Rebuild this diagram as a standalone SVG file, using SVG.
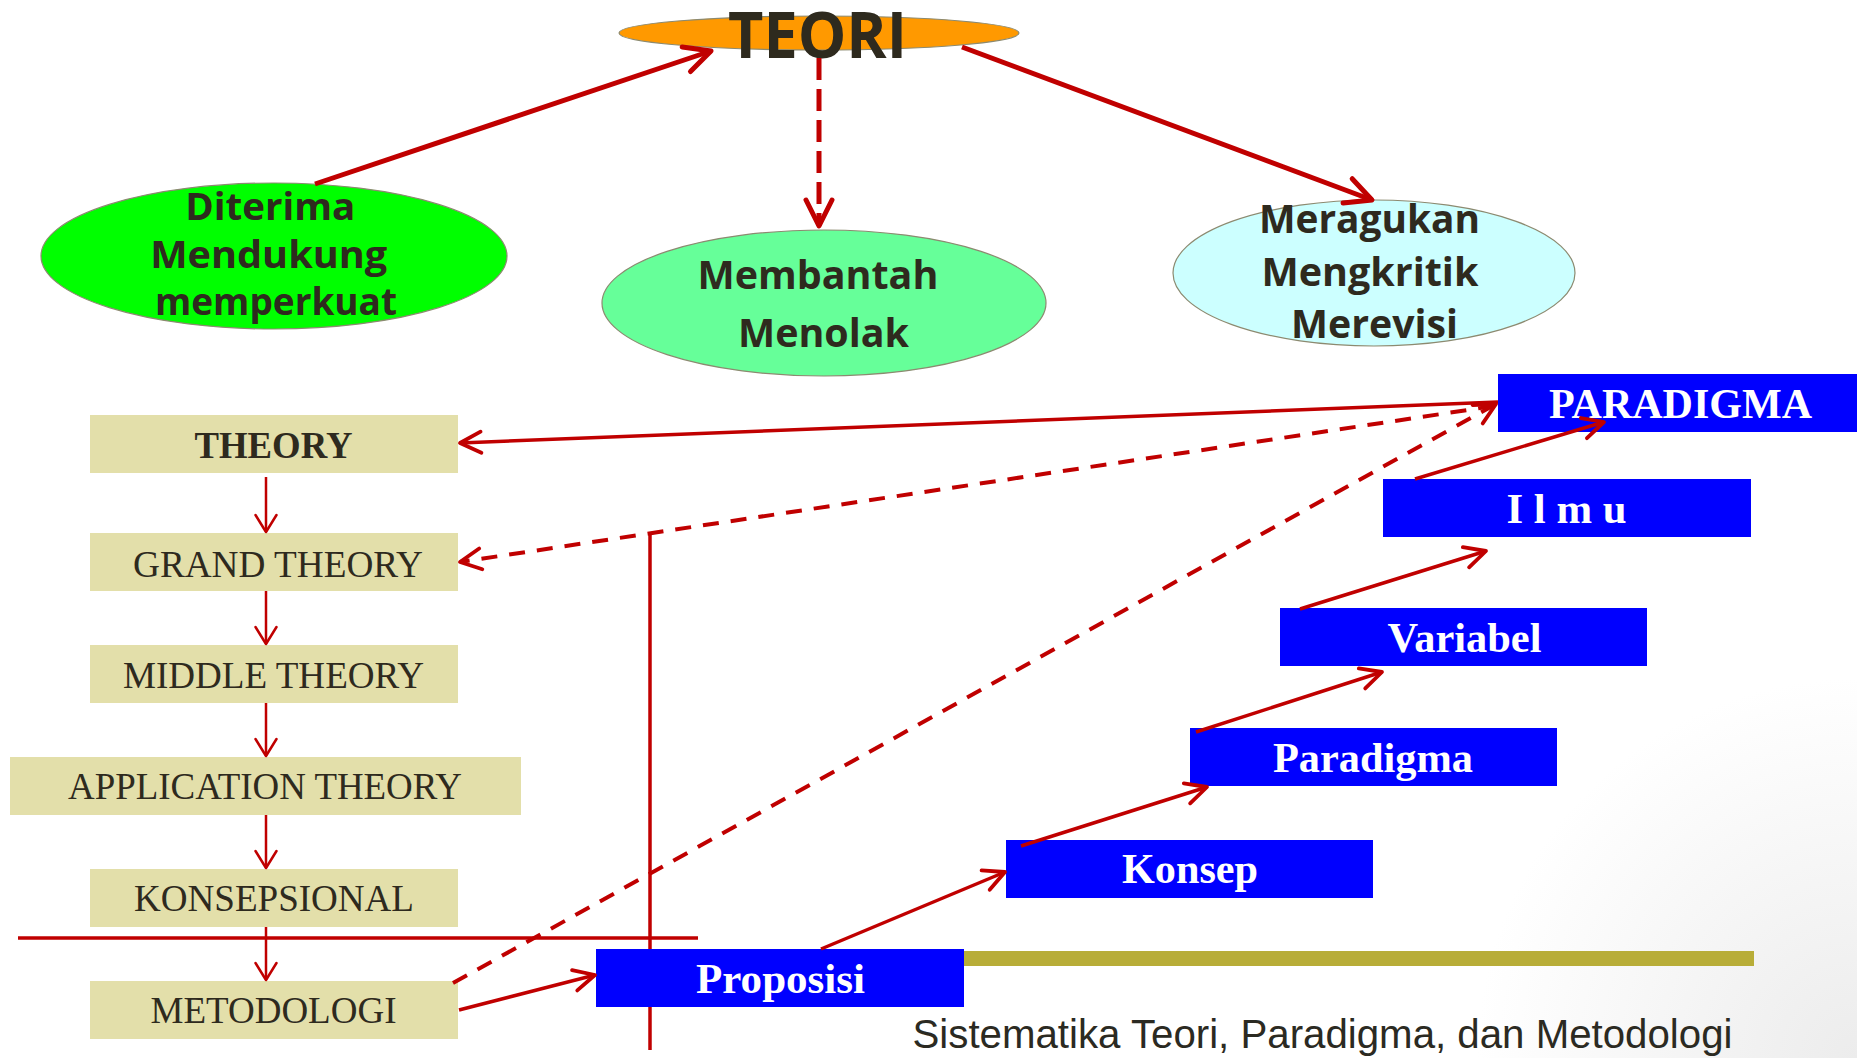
<svg xmlns="http://www.w3.org/2000/svg" width="1857" height="1058" viewBox="0 0 1857 1058">
<defs>
<style>
.ell{stroke:#8c8a70;stroke-width:1.2}
.et{font-family:"Open Sans","Liberation Sans",sans-serif;font-weight:bold;fill:#2e2a1e;text-anchor:middle}
.bx{fill:#E3DFAA}
.bt{font-family:"Liberation Serif","Times New Roman",serif;font-size:37px;fill:#2e2a1e;text-anchor:middle}
.blue{fill:#0000FF}
.wt{font-family:"Liberation Serif","Times New Roman",serif;font-size:42px;font-weight:bold;fill:#ffffff;text-anchor:middle}
.big{fill:none;stroke:#C00000;stroke-width:5}
.mid{fill:none;stroke:#C00000;stroke-width:3.5}
.thin{fill:none;stroke:#C00000;stroke-width:2.5}
.dash5{stroke-dasharray:22 9}
.dash4{stroke-dasharray:16 12;stroke-width:4}
</style>
<radialGradient id="bgGrad" gradientUnits="userSpaceOnUse" cx="1857" cy="1058" r="380">
<stop offset="0" stop-color="#ececec"/>
<stop offset="1" stop-color="#ffffff"/>
</radialGradient>
<marker id="ahBig" markerUnits="userSpaceOnUse" viewBox="-34 -18 38 36" markerWidth="38" markerHeight="36" refX="0" refY="0" orient="auto" overflow="visible">
<path d="M-26,-13 L0,0 L-26,13" fill="none" stroke="#C00000" stroke-width="5" stroke-linecap="round" stroke-linejoin="round"/>
</marker>
<marker id="ahMid" markerUnits="userSpaceOnUse" viewBox="-28 -14 32 28" markerWidth="32" markerHeight="28" refX="0" refY="0" orient="auto" overflow="visible">
<path d="M-21,-10.5 L0,0 L-21,10.5" fill="none" stroke="#C00000" stroke-width="3.8" stroke-linecap="round" stroke-linejoin="round"/>
</marker>
<marker id="ahThin" markerUnits="userSpaceOnUse" viewBox="-24 -14 28 28" markerWidth="28" markerHeight="28" refX="0" refY="0" orient="auto" overflow="visible">
<path d="M-17,-10.5 L0,0 L-17,10.5" fill="none" stroke="#C00000" stroke-width="2.5" stroke-linecap="round" stroke-linejoin="round"/>
</marker>
</defs>

<rect x="0" y="0" width="1857" height="1058" fill="#ffffff"/>
<rect x="1300" y="600" width="557" height="458" fill="url(#bgGrad)"/>

<!-- decorative bar -->
<rect id="olive-bar" x="964" y="951" width="790" height="15" fill="#B8AD38"/>

<!-- separator lines -->
<g id="separators">
<line x1="18" y1="938" x2="698" y2="938" class="mid"/>
<line x1="650" y1="532" x2="650" y2="1050" class="mid"/>
</g>

<!-- top ellipse nodes -->
<g id="node-teori">
<ellipse cx="819" cy="33" rx="200" ry="17" fill="#FF9900" class="ell"/>
<text x="817.5" y="58" class="et" font-size="64" textLength="179" lengthAdjust="spacingAndGlyphs">TEORI</text>
</g>
<g id="node-diterima">
<ellipse cx="274" cy="256" rx="233" ry="73" fill="#00FF00" class="ell"/>
<text class="et" font-size="37">
<tspan x="275" y="220" textLength="170" lengthAdjust="spacingAndGlyphs">Diterima</tspan>
<tspan x="273.5" y="268" textLength="237" lengthAdjust="spacingAndGlyphs">Mendukung</tspan>
<tspan x="276" y="315" textLength="242" lengthAdjust="spacingAndGlyphs">memperkuat</tspan>
</text>
</g>
<g id="node-membantah">
<ellipse cx="824" cy="303" rx="222" ry="73" fill="#66FF99" class="ell"/>
<text class="et" font-size="39">
<tspan x="823" y="289" textLength="241" lengthAdjust="spacingAndGlyphs">Membantah</tspan>
<tspan x="823.5" y="347" textLength="171" lengthAdjust="spacingAndGlyphs">Menolak</tspan>
</text>
</g>
<g id="node-meragukan">
<ellipse cx="1374" cy="273" rx="201" ry="73" fill="#CCFFFF" class="ell"/>
<text class="et" font-size="39">
<tspan x="1374.5" y="233" textLength="221" lengthAdjust="spacingAndGlyphs">Meragukan</tspan>
<tspan x="1375" y="286" textLength="217" lengthAdjust="spacingAndGlyphs">Mengkritik</tspan>
<tspan x="1374.5" y="338" textLength="167" lengthAdjust="spacingAndGlyphs">Merevisi</tspan>
</text>
</g>

<!-- left column boxes -->
<g id="node-theory">
<rect x="90" y="415" width="368" height="58" class="bx"/>
<text x="273.5" y="458" class="bt" font-weight="bold" textLength="158" lengthAdjust="spacingAndGlyphs">THEORY</text>
</g>
<g id="node-grand-theory">
<rect x="90" y="533" width="368" height="58" class="bx"/>
<text x="278" y="577" class="bt" textLength="290" lengthAdjust="spacingAndGlyphs">GRAND THEORY</text>
</g>
<g id="node-middle-theory">
<rect x="90" y="645" width="368" height="58" class="bx"/>
<text x="273.5" y="688" class="bt" textLength="301" lengthAdjust="spacingAndGlyphs">MIDDLE THEORY</text>
</g>
<g id="node-application-theory">
<rect x="10" y="757" width="511" height="58" class="bx"/>
<text x="265" y="799" class="bt" textLength="394" lengthAdjust="spacingAndGlyphs">APPLICATION THEORY</text>
</g>
<g id="node-konsepsional">
<rect x="90" y="869" width="368" height="58" class="bx"/>
<text x="274" y="911" class="bt" textLength="280" lengthAdjust="spacingAndGlyphs">KONSEPSIONAL</text>
</g>
<g id="node-metodologi">
<rect x="90" y="981" width="368" height="58" class="bx"/>
<text x="273.5" y="1023" class="bt" textLength="246" lengthAdjust="spacingAndGlyphs">METODOLOGI</text>
</g>

<!-- blue boxes -->
<g id="node-paradigma-top">
<rect x="1498" y="374" width="367" height="58" class="blue"/>
<text x="1680.5" y="418" class="wt" textLength="263" lengthAdjust="spacingAndGlyphs">PARADIGMA</text>
</g>
<g id="node-ilmu">
<rect x="1383" y="479" width="368" height="58" class="blue"/>
<text x="1566.5" y="523" class="wt" textLength="120" lengthAdjust="spacingAndGlyphs">I l m u</text>
</g>
<g id="node-variabel">
<rect x="1280" y="608" width="367" height="58" class="blue"/>
<text x="1464.5" y="652" class="wt" textLength="154" lengthAdjust="spacingAndGlyphs">Variabel</text>
</g>
<g id="node-paradigma">
<rect x="1190" y="728" width="367" height="58" class="blue"/>
<text x="1373" y="772" class="wt" textLength="200" lengthAdjust="spacingAndGlyphs">Paradigma</text>
</g>
<g id="node-konsep">
<rect x="1006" y="840" width="367" height="58" class="blue"/>
<text x="1190" y="883" class="wt" textLength="136" lengthAdjust="spacingAndGlyphs">Konsep</text>
</g>
<g id="node-proposisi">
<rect x="596" y="949" width="368" height="58" class="blue"/>
<text x="780.5" y="993" class="wt" textLength="169" lengthAdjust="spacingAndGlyphs">Proposisi</text>
</g>

<!-- connectors -->
<g id="connectors">
<line x1="315" y1="184" x2="711" y2="51" class="big" marker-end="url(#ahBig)"/>
<line x1="819" y1="58" x2="819" y2="226" class="big dash5" marker-end="url(#ahBig)"/>
<line x1="962" y1="47" x2="1372" y2="200" class="big" marker-end="url(#ahBig)"/>

<line x1="1498" y1="402" x2="460" y2="443" class="mid" marker-end="url(#ahMid)"/>
<line x1="1494" y1="406" x2="460" y2="562" class="mid dash4" marker-end="url(#ahMid)"/>
<line x1="453" y1="983" x2="1496" y2="404" class="mid dash4" marker-end="url(#ahMid)"/>
<line x1="459" y1="1010" x2="595" y2="975" class="mid" marker-end="url(#ahMid)"/>
<line x1="821" y1="949" x2="1005" y2="872" class="mid" marker-end="url(#ahMid)"/>
<line x1="1021" y1="846" x2="1207" y2="787" class="mid" marker-end="url(#ahMid)"/>
<line x1="1196" y1="732" x2="1382" y2="672" class="mid" marker-end="url(#ahMid)"/>
<line x1="1300" y1="609" x2="1486" y2="551" class="mid" marker-end="url(#ahMid)"/>
<line x1="1415" y1="479" x2="1604" y2="422" class="mid" marker-end="url(#ahMid)"/>

<line x1="266" y1="477" x2="266" y2="532" class="thin" marker-end="url(#ahThin)"/>
<line x1="266" y1="591" x2="266" y2="644" class="thin" marker-end="url(#ahThin)"/>
<line x1="266" y1="703" x2="266" y2="756" class="thin" marker-end="url(#ahThin)"/>
<line x1="266" y1="815" x2="266" y2="868" class="thin" marker-end="url(#ahThin)"/>
<line x1="266" y1="927" x2="266" y2="980" class="thin" marker-end="url(#ahThin)"/>
</g>

<text id="caption" x="912.5" y="1048" font-family="'Liberation Sans',Arial,sans-serif" font-size="40" fill="#2b2a22" textLength="820" lengthAdjust="spacingAndGlyphs">Sistematika Teori, Paradigma, dan Metodologi</text>
</svg>
